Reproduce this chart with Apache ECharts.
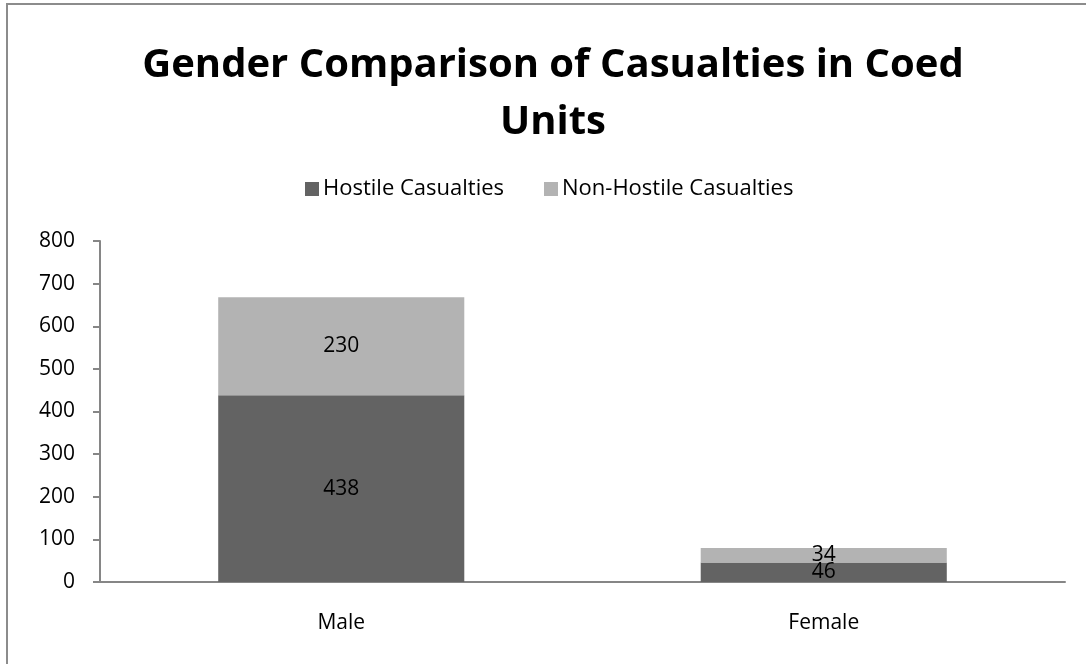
<!DOCTYPE html>
<html>
<head>
<meta charset="utf-8">
<style>
  html, body { margin: 0; padding: 0; background: #fff; }
  #chart { width: 1086px; height: 664px; }
</style>
<script src="https://cdn.jsdelivr.net/npm/echarts@6/dist/echarts.min.js"></script>
</head>
<body>
<div id="chart"></div>
<script>
// Casualty counts by gender in coed units
const categories = ['Male', 'Female'];
const hostile = [438, 46];
const nonHostile = [230, 34];
const yTicks = { min: 0, max: 800, interval: 100 };

const FONT = '"Open Sans", "Noto Sans", sans-serif';
const LABEL_SIZE = 21;

const chart = echarts.init(document.getElementById('chart'), null, { renderer: 'canvas' });

chart.setOption({
  animation: false,
  backgroundColor: '#ffffff',
  textStyle: { fontFamily: FONT },
  graphic: [{
    type: 'rect',
    shape: { x: 7, y: 4, width: 1200, height: 800 },
    style: { fill: 'none', stroke: '#8c8c8c', lineWidth: 2 },
    silent: true
  }],
  title: {
    text: 'Gender Comparison of Casualties in Coed\nUnits',
    left: 548,
    textAlign: 'center',
    top: 32,
    textStyle: {
      fontFamily: FONT,
      fontSize: 40,
      fontWeight: 'bold',
      color: '#000',
      lineHeight: 57
    }
  },
  legend: {
    top: 173,
    left: 300,
    itemWidth: 14,
    itemHeight: 14,
    itemGap: 40,
    icon: 'rect',
    textStyle: { fontFamily: FONT, fontSize: 22, color: '#000', padding: [0, 0, 0, -1] },
    data: ['Hostile Casualties', 'Non-Hostile Casualties']
  },
  grid: { left: 100, right: 21, top: 241, bottom: 82, containLabel: false },
  xAxis: {
    type: 'category',
    data: categories,
    axisLine: { show: true, lineStyle: { color: '#868686', width: 2 } },
    axisTick: { show: false },
    axisLabel: { fontFamily: FONT, fontSize: LABEL_SIZE, color: '#000', margin: 31 }
  },
  yAxis: {
    type: 'value',
    min: yTicks.min,
    max: yTicks.max,
    interval: yTicks.interval,
    axisLine: { show: true, lineStyle: { color: '#868686', width: 2 } },
    axisTick: { show: true, length: 7, lineStyle: { color: '#868686', width: 2 } },
    splitLine: { show: false },
    axisLabel: { fontFamily: FONT, fontSize: LABEL_SIZE, color: '#000', margin: 25 }
  },
  series: [
    {
      name: 'Hostile Casualties',
      type: 'bar',
      stack: 'total',
      barWidth: '51%',
      data: hostile,
      itemStyle: { color: '#636363' },
      label: { show: true, position: 'inside', fontFamily: FONT, fontSize: LABEL_SIZE, color: '#000' }
    },
    {
      name: 'Non-Hostile Casualties',
      type: 'bar',
      stack: 'total',
      barWidth: '51%',
      data: nonHostile,
      itemStyle: { color: '#b3b3b3' },
      label: { show: true, position: 'inside', fontFamily: FONT, fontSize: LABEL_SIZE, color: '#000' }
    }
  ]
});
</script>
</body>
</html>
